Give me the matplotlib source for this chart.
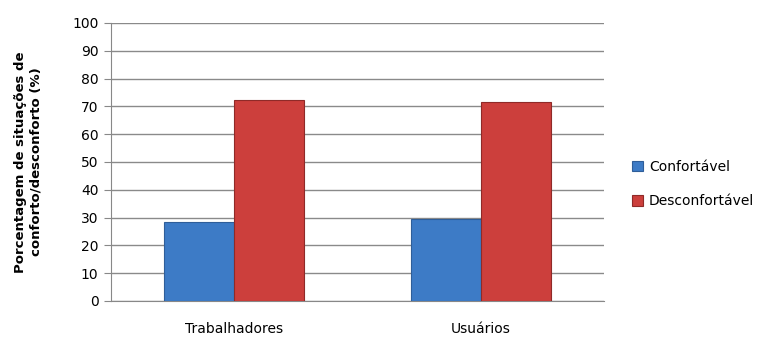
import matplotlib
matplotlib.use("Agg")
import matplotlib.pyplot as plt
import numpy as np

categories = ["Trabalhadores", "Usuários"]
series_names = ["Confortável", "Desconfortável"]
confortavel = [28.3, 29.5]
desconfortavel = [72.3, 71.4]
yticks = list(range(0, 101, 10))

plt.rcParams['font.family'] = ['DejaVu Sans']

fig = plt.figure(figsize=(7.67, 3.38), dpi=100)
ax = fig.add_axes([0.1447, 0.1095, 0.7875 - 0.1447, 0.932 - 0.1095])

x = np.arange(len(categories))
w = 0.284
ax.bar(x - w/2, confortavel, w, color="#3D7BC6", edgecolor="#2F5E99", linewidth=0.8,
       label=series_names[0], zorder=3)
ax.bar(x + w/2, desconfortavel, w, color="#CC3F3C", edgecolor="#8F2A28", linewidth=0.8,
       label=series_names[1], zorder=3)

ax.set_xlim(-0.5, 1.5)
ax.set_ylim(0, 100)
ax.set_yticks(yticks)
ax.set_xticks(x)
ax.set_xticklabels(categories, fontsize=10)
ax.tick_params(axis='y', labelsize=10, length=5, color="#888888", direction='out', pad=4)
ax.tick_params(axis='x', length=0, pad=15)
ax.yaxis.grid(True, color="#8a8a8a", linewidth=1.0, zorder=0)
for s in ["top", "right"]:
    ax.spines[s].set_visible(False)
ax.spines["left"].set_color("#888888")
ax.spines["bottom"].set_color("#888888")

ax.set_ylabel("Porcentagem de situações de\nconforto/desconforto (%)", fontsize=9.5,
              fontweight='bold', labelpad=21, linespacing=1.3)

leg = fig.legend(loc="upper left", bbox_to_anchor=(0.808, 0.565), frameon=False,
                 fontsize=10, handlelength=0.75, handleheight=0.75, handletextpad=0.45,
                 labelspacing=1.5)

fig.savefig("out.png", dpi=100)
